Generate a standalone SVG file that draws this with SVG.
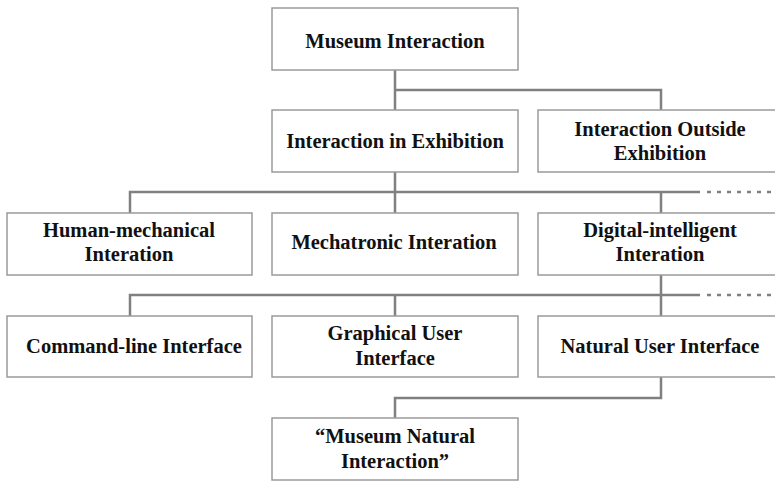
<svg xmlns="http://www.w3.org/2000/svg" width="775" height="481" viewBox="0 0 775 481">
<style>
.box{fill:#fff;stroke:#9a9a9a;stroke-width:1.5}
.t{font-family:"Liberation Serif","Times New Roman",serif;font-weight:bold;font-size:20.5px;fill:#111;text-anchor:middle}
.c{fill:none;stroke:#808080;stroke-width:2.5}
.d{fill:none;stroke:#808080;stroke-width:2.5;stroke-dasharray:4 6}
</style>
<rect width="775" height="481" fill="#fff"/>
<g id="connectors">
<path class="c" d="M395 70V110M395 90H661V110"/>
<path class="c" d="M395 172V213M130 213V192H700M661 192V213"/>
<path class="d" d="M707 192H775"/>
<path class="c" d="M661 275V316M130 316V295H700M395 295V316"/>
<path class="d" d="M707 295H775"/>
<path class="c" d="M661 377V398H395V418"/>
</g>
<g id="museum-interaction"><rect class="box" x="272" y="8" width="246" height="62"/><text class="t" x="395" y="48">Museum Interaction</text></g>
<g id="interaction-in-exhibition"><rect class="box" x="272" y="110" width="246" height="62"/><text class="t" x="395" y="148">Interaction in Exhibition</text></g>
<g id="interaction-outside-exhibition"><rect class="box" x="538" y="110" width="240" height="62"/><text class="t" x="660" y="136">Interaction Outside</text><text class="t" x="660" y="160">Exhibition</text></g>
<g id="human-mechanical"><rect class="box" x="7" y="213" width="245" height="62"/><text class="t" x="129" y="237">Human-mechanical</text><text class="t" x="129" y="261">Interation</text></g>
<g id="mechatronic"><rect class="box" x="272" y="213" width="246" height="62"/><text class="t" x="394" y="249">Mechatronic Interation</text></g>
<g id="digital-intelligent"><rect class="box" x="538" y="213" width="240" height="62"/><text class="t" x="660" y="237">Digital-intelligent</text><text class="t" x="660" y="261">Interation</text></g>
<g id="command-line"><rect class="box" x="7" y="316" width="245" height="61"/><text class="t" x="134" y="353">Command-line Interface</text></g>
<g id="gui"><rect class="box" x="272" y="316" width="246" height="61"/><text class="t" x="395" y="340">Graphical User</text><text class="t" x="395" y="365">Interface</text></g>
<g id="nui"><rect class="box" x="538" y="316" width="240" height="61"/><text class="t" x="660" y="353">Natural User Interface</text></g>
<g id="museum-natural-interaction"><rect class="box" x="272" y="418" width="246" height="62"/><text class="t" x="395" y="443">“Museum Natural</text><text class="t" x="395" y="468">Interaction”</text></g>
</svg>
